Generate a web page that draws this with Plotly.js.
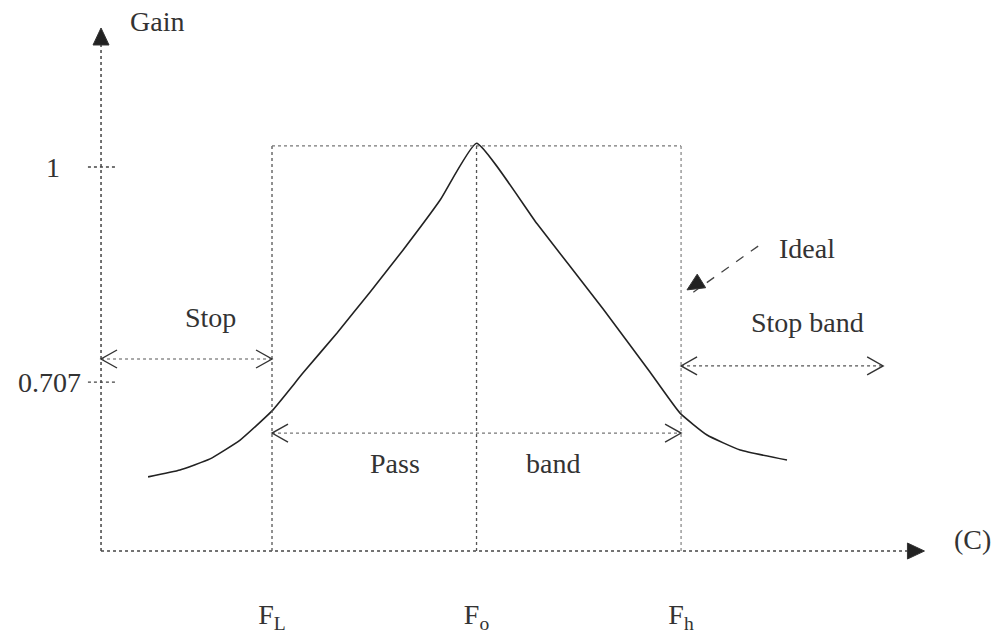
<!DOCTYPE html>
<html>
<head>
<meta charset="utf-8">
<script src="https://cdn.plot.ly/plotly-3.0.1.min.js"></script>
<style>
  html, body { margin: 0; padding: 0; background: #fff; }
  #chart { width: 995px; height: 634px; }
</style>
</head>
<body>
<div id="chart"></div>
<script>
// frequency axis ticks (F_L, F_o, F_h)
var freqTicks = [1, 2, 3];
var freqLabels = ["F<sub>L</sub>", "F<sub>o</sub>", "F<sub>h</sub>"];

// gain axis ticks (schematic, not to scale)
var gainTicks = [1, 0.44];
var gainLabels = ["1&nbsp;&nbsp;&nbsp;", "0.707"];

var realFreq = [0.394, 0.550, 0.697, 0.844, 1.000, 1.152, 1.318, 1.479, 1.641, 1.822, 2.000,
                2.296, 2.619, 2.848, 2.995, 3.127, 3.289, 3.518];
var realGain = [0.193, 0.211, 0.240, 0.289, 0.365, 0.464, 0.568, 0.674, 0.784, 0.914, 1.062,
                0.852, 0.630, 0.466, 0.359, 0.302, 0.263, 0.237];

// ideal band-pass box
var idealLow = 1, idealCentre = 2, idealHigh = 3, idealTop = 1.055;

// axis origin / arrow ends
var originX = 0.164;
var xArrowTip = 4.19, yArrowTip = 1.362;

var ink = "#333";
var serif = "Liberation Serif, Times New Roman, serif";

// data units per screen pixel (x range 4.865 over 995px, y range 1.651 over 634px)
var pxX = 4.865 / 995, pxY = 1.651 / 634;

var trace = {
  x: realFreq,
  y: realGain,
  mode: "lines",
  line: { color: "#222", width: 1.6, shape: "spline", smoothing: 0.4 },
  hoverinfo: "skip",
  showlegend: false
};

function dotted(x0, y0, x1, y1, color, width, dash) {
  return {
    type: "line", xref: "x", yref: "y", x0: x0, y0: y0, x1: x1, y1: y1,
    line: { color: color, width: width, dash: dash || "dot" }
  };
}

// arrow head at (x, y) pointing along (ux, uy) in screen pixels (y up)
function head(x, y, ux, uy, filled) {
  var len = Math.sqrt(ux * ux + uy * uy);
  ux /= len; uy /= len;
  var L = filled ? 17 : 16, W = filled ? 8 : 9;
  var bx = -L * ux, by = -L * uy;
  var nx = -uy * W, ny = ux * W;
  var p1 = [x + (bx + nx) * pxX, y + (by + ny) * pxY];
  var p2 = [x + (bx - nx) * pxX, y + (by - ny) * pxY];
  var path = "M" + p1[0] + "," + p1[1] + " L" + x + "," + y + " L" + p2[0] + "," + p2[1];
  return {
    type: "path", xref: "x", yref: "y",
    path: filled ? path + " Z" : path,
    fillcolor: filled ? "#222" : "rgba(0,0,0,0)",
    line: { color: "#333", width: filled ? 1 : 1.4 }
  };
}

var shapes = [
  dotted(originX, 0, originX, yArrowTip - 14 * pxY, "#444", 1.5),
  dotted(originX, 0, xArrowTip - 14 * pxX, 0, "#444", 1.5),
  // ideal box
  dotted(idealLow, 0, idealLow, idealTop, "#555", 1.3),
  dotted(idealLow, idealTop, idealHigh, idealTop, "#777", 1.1),
  dotted(idealHigh, 0, idealHigh, idealTop, "#777", 1.1),
  dotted(idealCentre, 0, idealCentre, idealTop, "#555", 1.3),
  // stop / pass / stop band arrows
  dotted(originX, 0.5, idealLow, 0.5, "#555", 1.2),
  dotted(idealLow, 0.307, idealHigh, 0.307, "#777", 1.1),
  dotted(idealHigh, 0.482, 3.988, 0.482, "#555", 1.2),
  // "Ideal" pointer
  dotted(3.377, 0.794, 3.06, 0.674, "#444", 1.3, "dash"),
  // arrow heads
  head(originX, yArrowTip, 0, 1, true),
  head(xArrowTip, 0, 1, 0, true),
  head(3.029, 0.680, -71, -44, true),
  head(originX, 0.5, -1, 0, false),
  head(idealLow, 0.5, 1, 0, false),
  head(idealLow, 0.307, -1, 0, false),
  head(idealHigh, 0.307, 1, 0, false),
  head(idealHigh, 0.482, -1, 0, false),
  head(3.988, 0.482, 1, 0, false)
];

gainTicks.forEach(function (g) {
  shapes.push(dotted(0.100, g, 0.242, g, "#444", 1.3));
});

function label(txt, x, y) {
  return {
    x: x, y: y, xref: "x", yref: "y", text: txt, showarrow: false,
    font: { family: serif, size: 28, color: ink }
  };
}

var annotations = [
  label("Gain", 0.438, 1.378),
  label("Stop", 0.697, 0.609),
  label("Pass", 1.601, 0.229),
  label("band", 2.374, 0.229),
  label("Ideal", 3.616, 0.789),
  label("Stop band", 3.616, 0.596),
  label("(C)", 4.423, 0.030)
];

var layout = {
  width: 995,
  height: 634,
  margin: { l: 0, r: 0, t: 0, b: 0 },
  paper_bgcolor: "#fff",
  plot_bgcolor: "#fff",
  showlegend: false,
  xaxis: {
    range: [-0.330, 4.535],
    anchor: "free",
    position: 83 / 634,
    showgrid: false, zeroline: false, showline: false,
    tickmode: "array", tickvals: freqTicks, ticktext: freqLabels,
    ticks: "", ticklabelstandoff: 44,
    tickfont: { family: serif, size: 28, color: ink },
    fixedrange: true
  },
  yaxis: {
    range: [-0.2161, 1.4349],
    anchor: "free",
    position: 101 / 995,
    showgrid: false, zeroline: false, showline: false,
    tickmode: "array", tickvals: gainTicks, ticktext: gainLabels,
    ticks: "", ticklabelstandoff: 20,
    tickfont: { family: serif, size: 28, color: ink },
    fixedrange: true
  },
  shapes: shapes,
  annotations: annotations
};

Plotly.newPlot("chart", [trace], layout, { displayModeBar: false, staticPlot: true });
</script>
</body>
</html>
